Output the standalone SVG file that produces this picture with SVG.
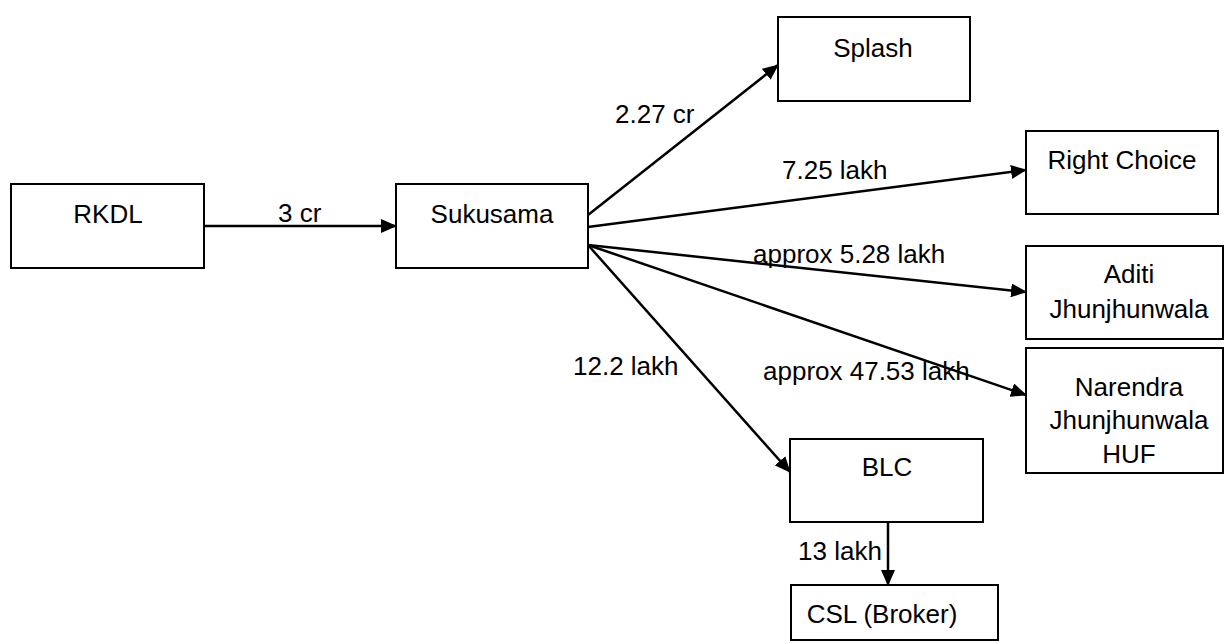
<svg xmlns="http://www.w3.org/2000/svg" width="1224" height="644" viewBox="0 0 1224 644">
<style>
.box{fill:#fff;stroke:#000;stroke-width:2}
.t{font-family:"Liberation Sans",Arial,sans-serif;font-size:26px;fill:#000}
.c{text-anchor:middle}
.ln{stroke:#000;stroke-width:2.5;fill:none;marker-end:url(#ah)}
</style>
<defs>
<marker id="ah" markerUnits="userSpaceOnUse" markerWidth="16" markerHeight="14" refX="15" refY="7" orient="auto" viewBox="0 0 16 14">
<path d="M0,0 L16,7 L0,14 z" fill="#000"/>
</marker>
</defs>
<rect width="1224" height="644" fill="#fff"/>
<g id="connectors">
<line class="ln" x1="204" y1="226" x2="396" y2="226"/>
<line class="ln" x1="588" y1="215" x2="778" y2="65"/>
<line class="ln" x1="588" y1="227" x2="1026" y2="170"/>
<line class="ln" x1="588" y1="245" x2="1026" y2="292"/>
<line class="ln" x1="588" y1="245" x2="1026" y2="395"/>
<line class="ln" x1="588" y1="245" x2="790" y2="472"/>
<line class="ln" x1="888" y1="522" x2="888" y2="585"/>
<text class="t" x="278" y="222">3 cr</text>
<text class="t" x="615" y="123">2.27 cr</text>
<text class="t" x="782" y="179">7.25 lakh</text>
<text class="t" x="753" y="263">approx 5.28 lakh</text>
<text class="t" x="763" y="380">approx 47.53 lakh</text>
<text class="t" x="573" y="375">12.2 lakh</text>
<text class="t" x="798" y="560">13 lakh</text>
</g>
<g id="rkdl"><rect class="box" x="11" y="184" width="193" height="84"/><text class="t c" x="108" y="223">RKDL</text></g>
<g id="sukusama"><rect class="box" x="396" y="184" width="192" height="84"/><text class="t c" x="492" y="223">Sukusama</text></g>
<g id="splash"><rect class="box" x="778" y="17" width="192" height="84"/><text class="t c" x="873" y="57">Splash</text></g>
<g id="right-choice"><rect class="box" x="1026" y="131" width="192" height="83"/><text class="t c" x="1122" y="169">Right Choice</text></g>
<g id="aditi"><rect class="box" x="1026" y="246" width="197" height="93"/><text class="t c" x="1129" y="283">Aditi</text><text class="t c" x="1129" y="318">Jhunjhunwala</text></g>
<g id="narendra"><rect class="box" x="1026" y="348" width="197" height="125"/><text class="t c" x="1129" y="396">Narendra</text><text class="t c" x="1129" y="429">Jhunjhunwala</text><text class="t c" x="1129" y="463">HUF</text></g>
<g id="blc"><rect class="box" x="790" y="439" width="193" height="83"/><text class="t c" x="887" y="476">BLC</text></g>
<g id="csl"><rect class="box" x="791" y="585" width="207" height="55"/><text class="t c" x="882" y="623">CSL (Broker)</text></g>
</svg>
